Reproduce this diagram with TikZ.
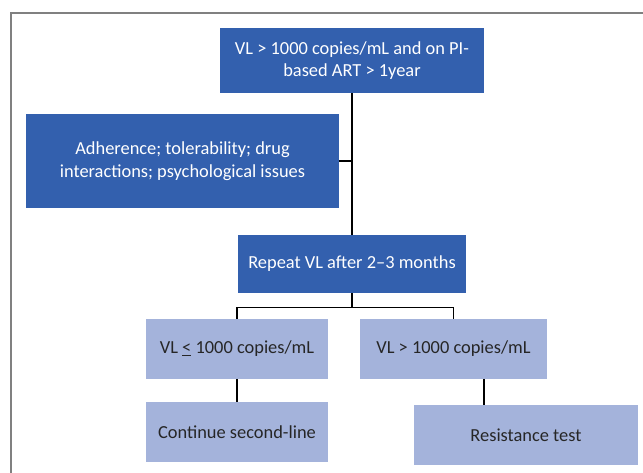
\documentclass[tikz,border=0pt]{standalone}
\usepackage{fontspec}
\setmainfont{Carlito}
\definecolor{darkbox}{HTML}{3360AE}
\definecolor{lightbox}{HTML}{A4B3DB}
\definecolor{lighttext}{HTML}{262626}
\definecolor{framegray}{HTML}{808080}
\begin{document}
\begin{tikzpicture}[x=1pt,y=-1pt,
  dbox/.style={fill=darkbox,text=white,align=center,inner sep=0pt,font=\fontsize{18.4}{22.4}\selectfont},
  lbox/.style={fill=lightbox,text=lighttext,align=center,inner sep=0pt,font=\fontsize{18.4}{22.4}\selectfont},
  conn/.style={draw=black,line width=1.1pt}]
\useasboundingbox (0,0) rectangle (643,473);
\fill[white] (0,0) rectangle (643,473);
\draw[framegray,line width=1.1pt] (11,473) -- (11,13) -- (643,13);

\node[dbox,minimum width=264pt,minimum height=65pt] (top) at (352,60.5) {VL > 1000 copies/mL and on PI-\\based ART > 1year};
\node[dbox,minimum width=313pt,minimum height=94pt] (left) at (182.5,161) {Adherence; tolerability; drug\\interactions; psychological issues};
\node[dbox,minimum width=228pt,minimum height=58pt] (rep) at (352,264) {Repeat VL after 2–3 months};
\node[lbox,minimum width=182pt,minimum height=59.5pt] (le) at (237,349) {VL \underline{<} 1000 copies/mL};
\node[lbox,minimum width=187pt,minimum height=59.5pt] (gt) at (453.5,349) {VL > 1000 copies/mL};
\node[lbox,minimum width=182pt,minimum height=60pt] (cont) at (237,432) {Continue second-line};
\node[lbox,minimum width=224pt,minimum height=60pt] (res) at (526,435) {Resistance test};

\draw[conn] (top.south) -- (rep.north);
\draw[conn] (left.east) -- (left.east -| top.south);
\draw[conn] (rep.south) -- ++(0,14) coordinate (br) -| (le.north);
\draw[conn] (br) -| (gt.north);
\draw[conn] (le.south) -- (cont.north);
\draw[conn] ([xshift=30.5pt]gt.south) -- ([xshift=30.5pt]gt.south |- res.north);
\end{tikzpicture}
\end{document}
